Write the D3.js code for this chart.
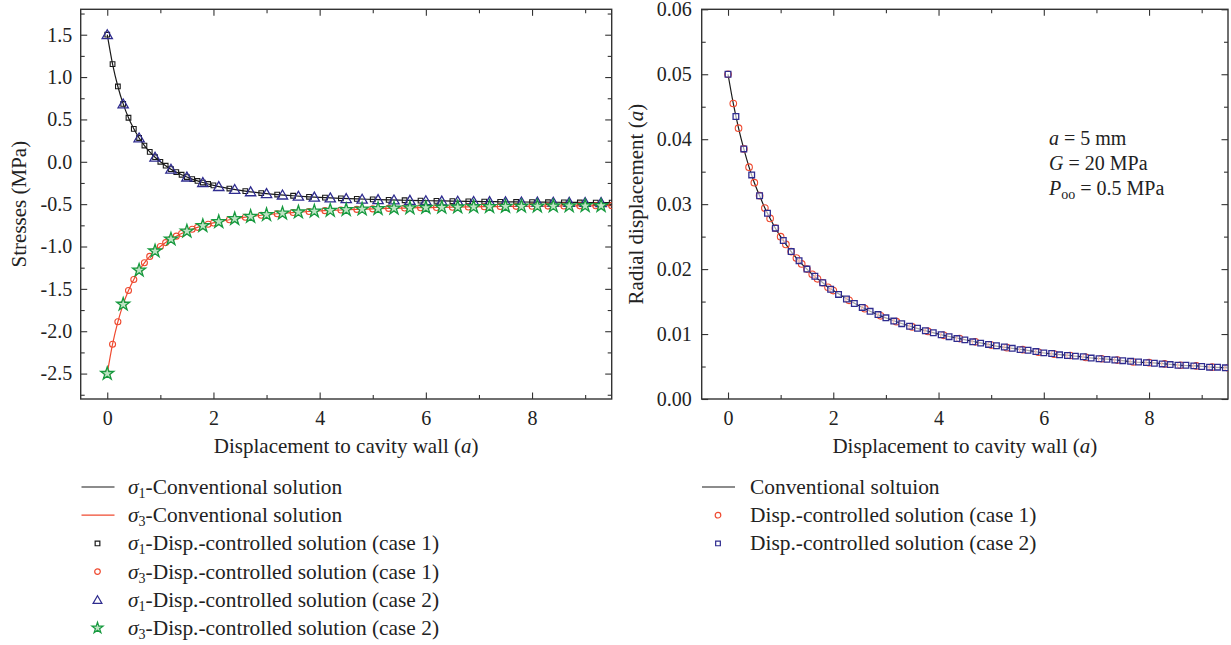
<!DOCTYPE html>
<html>
<head>
<meta charset="utf-8">
<script src="https://cdn.jsdelivr.net/npm/d3@7"></script>
<style>
  body { margin: 0; background: #fff; }
  svg text { font-family: "Liberation Serif", "Times New Roman", serif; fill: #222; }
</style>
</head>
<body>
<div id="chart"></div>
<script>
// --- data ---
// case 1 grid (0.1 steps to 2.0, then 0.3 steps)
const xCase1 = [0, 0.1, 0.2, 0.3, 0.4, 0.5, 0.6, 0.7, 0.8, 0.9, 1.0, 1.1, 1.2, 1.3, 1.4, 1.5, 1.6, 1.7, 1.8, 1.9, 2.0,
  2.3, 2.6, 2.9, 3.2, 3.5, 3.8, 4.1, 4.4, 4.7, 5.0, 5.3, 5.6, 5.9, 6.2, 6.5, 6.8, 7.1, 7.4, 7.7, 8.0, 8.3, 8.6, 8.9, 9.2, 9.5];
const s1Case1 = [1.5, 1.153, 0.889, 0.683, 0.520, 0.389, 0.281, 0.192, 0.117, 0.054, 0.000, -0.046, -0.087, -0.122, -0.153,
  -0.180, -0.204, -0.226, -0.245, -0.262, -0.278, -0.316, -0.346, -0.369, -0.387, -0.401, -0.413, -0.423, -0.431, -0.438,
  -0.444, -0.450, -0.454, -0.458, -0.461, -0.464, -0.467, -0.470, -0.472, -0.474, -0.475, -0.477, -0.478, -0.480, -0.481, -0.482];
const s3Case1 = [-2.5, -2.153, -1.889, -1.683, -1.520, -1.389, -1.281, -1.192, -1.117, -1.054, -1.000, -0.954, -0.913, -0.878, -0.847,
  -0.820, -0.796, -0.774, -0.755, -0.738, -0.722, -0.684, -0.654, -0.631, -0.613, -0.599, -0.587, -0.577, -0.569, -0.562,
  -0.556, -0.550, -0.546, -0.542, -0.539, -0.536, -0.533, -0.530, -0.528, -0.526, -0.525, -0.523, -0.522, -0.520, -0.519, -0.518];

// case 2 grid for stresses (0.3 steps)
const xCase2 = [0, 0.3, 0.6, 0.9, 1.2, 1.5, 1.8, 2.1, 2.4, 2.7, 3.0, 3.3, 3.6, 3.9, 4.2, 4.5, 4.8, 5.1, 5.4, 5.7,
  6.0, 6.3, 6.6, 6.9, 7.2, 7.5, 7.8, 8.1, 8.4, 8.7, 9.0, 9.3];
const s1Case2 = [1.5, 0.683, 0.281, 0.054, -0.087, -0.180, -0.245, -0.292, -0.327, -0.354, -0.375, -0.392, -0.406, -0.417,
  -0.426, -0.434, -0.441, -0.446, -0.451, -0.455, -0.459, -0.463, -0.465, -0.468, -0.470, -0.472, -0.474, -0.476, -0.477,
  -0.479, -0.480, -0.481];
const s3Case2 = [-2.5, -1.683, -1.281, -1.054, -0.913, -0.820, -0.755, -0.708, -0.673, -0.646, -0.625, -0.608, -0.594, -0.583,
  -0.574, -0.566, -0.559, -0.554, -0.549, -0.545, -0.541, -0.538, -0.535, -0.532, -0.530, -0.528, -0.526, -0.524, -0.523,
  -0.521, -0.520, -0.519];

// radial displacement, case 1 on xCase1
const uCase1 = [0.0500, 0.0455, 0.0417, 0.0385, 0.0357, 0.0333, 0.0313, 0.0294, 0.0278, 0.0263, 0.0250, 0.0238, 0.0227,
  0.0217, 0.0208, 0.0200, 0.0192, 0.0185, 0.0179, 0.0172, 0.0167, 0.0152, 0.0139, 0.0128, 0.0119, 0.0111, 0.0104, 0.0098,
  0.0093, 0.0088, 0.0083, 0.0079, 0.0076, 0.0072, 0.0069, 0.0067, 0.0064, 0.0062, 0.0060, 0.0057, 0.0056, 0.0054, 0.0052,
  0.0051, 0.0049, 0.0048];
// radial displacement, case 2 (0.15 steps)
const xCase2R = [0, 0.15, 0.3, 0.45, 0.6, 0.75, 0.9, 1.05, 1.2, 1.35, 1.5, 1.65, 1.8, 1.95, 2.1, 2.25, 2.4, 2.55, 2.7, 2.85,
  3.0, 3.15, 3.3, 3.45, 3.6, 3.75, 3.9, 4.05, 4.2, 4.35, 4.5, 4.65, 4.8, 4.95, 5.1, 5.25, 5.4, 5.55, 5.7, 5.85,
  6.0, 6.15, 6.3, 6.45, 6.6, 6.75, 6.9, 7.05, 7.2, 7.35, 7.5, 7.65, 7.8, 7.95, 8.1, 8.25, 8.4, 8.55, 8.7, 8.85,
  9.0, 9.15, 9.3, 9.45];
const uCase2R = [0.0500, 0.0435, 0.0385, 0.0345, 0.0313, 0.0286, 0.0263, 0.0244, 0.0227, 0.0213,
  0.0200, 0.0189, 0.0179, 0.0169, 0.0161, 0.0154, 0.0147, 0.0141, 0.0135, 0.0130,
  0.0125, 0.0120, 0.0116, 0.0112, 0.0109, 0.0105, 0.0102, 0.0099, 0.0096, 0.0093,
  0.0091, 0.0088, 0.0086, 0.0084, 0.0082, 0.0080, 0.0078, 0.0076, 0.0075, 0.0073,
  0.0071, 0.0070, 0.0068, 0.0067, 0.0066, 0.0065, 0.0063, 0.0062, 0.0061, 0.0060,
  0.0059, 0.0058, 0.0057, 0.0056, 0.0055, 0.0054, 0.0053, 0.0052, 0.0052, 0.0051,
  0.0050, 0.0049, 0.0049, 0.0048];

// conventional (analytical) solution drawn on the fine case 1 grid
const xConv = xCase1, s1Conv = s1Case1, s3Conv = s3Case1, uConv = uCase1;

const stressTicks = [-2.5, -2.0, -1.5, -1.0, -0.5, 0.0, 0.5, 1.0, 1.5];
const dispTicks = [0, 0.01, 0.02, 0.03, 0.04, 0.05, 0.06];
const xTicks = [0, 2, 4, 6, 8];

const RED = "#ef4a30", BLUE = "#2f2c8f", GREEN = "#179a3f", BLACK = "#1a1a1a";

const W = 1231, H = 645;
const svg = d3.select("#chart").append("svg").attr("width", W).attr("height", H);

const zip = (xs, ys) => xs.map((x, i) => [x, ys[i]]);
// plain hyphen for negatives, like the original figure
const hyph = f => d => f(d).replace("\u2212", "-");

function frame(id, x, y, labelPad, yFmt, yTicks, yMinor, title, titleX) {
  const [x0, x1] = x.range(), [y1, y0] = y.range();
  const g = svg.append("g");
  svg.append("clipPath").attr("id", id).append("rect")
    .attr("x", x0).attr("y", y0).attr("width", x1 - x0).attr("height", y1 - y0);

  const xMinor = [1, 3, 5, 7, 9];
  const tick = (axis, sel) => { sel.call(axis); sel.select(".domain").remove(); sel.selectAll("line").attr("stroke", "#333").attr("stroke-width", 1.1); };
  // bottom
  tick(d3.axisBottom(x).tickValues(xTicks).tickSize(-6.5).tickSizeOuter(0).tickPadding(11.5).tickFormat(d3.format("d")),
    g.append("g").attr("transform", `translate(0,${y1})`));
  tick(d3.axisBottom(x).tickValues(xMinor).tickSize(-4).tickSizeOuter(0).tickFormat(""),
    g.append("g").attr("transform", `translate(0,${y1})`));
  // top
  tick(d3.axisTop(x).tickValues(xTicks).tickSize(-6.5).tickSizeOuter(0).tickFormat(""),
    g.append("g").attr("transform", `translate(0,${y0})`));
  tick(d3.axisTop(x).tickValues(xMinor).tickSize(-4).tickSizeOuter(0).tickFormat(""),
    g.append("g").attr("transform", `translate(0,${y0})`));
  // left
  tick(d3.axisLeft(y).tickValues(yTicks).tickSize(-6.5).tickSizeOuter(0).tickPadding(labelPad).tickFormat(yFmt),
    g.append("g").attr("transform", `translate(${x0},0)`));
  tick(d3.axisLeft(y).tickValues(yMinor).tickSize(-4).tickSizeOuter(0).tickFormat(""),
    g.append("g").attr("transform", `translate(${x0},0)`));
  // right
  tick(d3.axisRight(y).tickValues(yTicks).tickSize(-6.5).tickSizeOuter(0).tickFormat(""),
    g.append("g").attr("transform", `translate(${x1},0)`));
  tick(d3.axisRight(y).tickValues(yMinor).tickSize(-4).tickSizeOuter(0).tickFormat(""),
    g.append("g").attr("transform", `translate(${x1},0)`));

  g.selectAll(".tick text").attr("font-size", 20).attr("fill", "#222")
    .style("font-family", '"Liberation Serif", serif');

  g.append("rect").attr("x", x0).attr("y", y0).attr("width", x1 - x0).attr("height", y1 - y0)
    .attr("fill", "none").attr("stroke", "#333").attr("stroke-width", 1.4);

  // x title
  const xt = g.append("text").attr("x", (x0 + x1) / 2).attr("y", 453).attr("text-anchor", "middle").attr("font-size", 21);
  xt.append("tspan").text("Displacement to cavity wall (");
  xt.append("tspan").attr("font-style", "italic").text("a");
  xt.append("tspan").text(")");

  // y title
  const yt = g.append("text").attr("transform", `translate(${titleX},${(y0 + y1) / 2}) rotate(-90)`)
    .attr("text-anchor", "middle").attr("font-size", 21);
  title(yt);
  return g;
}

// ---------- left panel: stresses ----------
const xL = d3.scaleLinear().domain([-0.5, 9.5]).range([80.7, 611.7]);
const yL = d3.scaleLinear().domain([-2.8, 1.8]).range([399, 9.3]);
frame("clipL", xL, yL, 8.5, hyph(d3.format(".1f")), stressTicks, d3.range(-2.75, 1.8, 0.5),
  t => t.text("Stresses (MPa)"), 26);

const lineL = d3.line().x(d => xL(d[0])).y(d => yL(d[1])).curve(d3.curveMonotoneX);
const plotL = svg.append("g").attr("clip-path", "url(#clipL)");
plotL.append("path").datum(zip(xConv, s1Conv)).attr("d", lineL).attr("fill", "none").attr("stroke", BLACK).attr("stroke-width", 1.2);
plotL.append("path").datum(zip(xConv, s3Conv)).attr("d", lineL).attr("fill", "none").attr("stroke", RED).attr("stroke-width", 1.2);

const sq = d3.symbol().type(d3.symbolSquare).size(22);
const tri = d3.symbol().type(d3.symbolTriangle).size(46);
const star = d3.symbol().type(d3.symbolStar).size(52);

plotL.append("g").selectAll("path").data(zip(xCase1, s1Case1)).join("path")
  .attr("transform", d => `translate(${xL(d[0])},${yL(d[1])})`).attr("d", sq)
  .attr("fill", "none").attr("stroke", BLACK).attr("stroke-width", 1.1);
plotL.append("g").selectAll("circle").data(zip(xCase1, s3Case1)).join("circle")
  .attr("cx", d => xL(d[0])).attr("cy", d => yL(d[1])).attr("r", 3)
  .attr("fill", "none").attr("stroke", RED).attr("stroke-width", 1.1);
plotL.append("g").selectAll("path").data(zip(xCase2, s1Case2)).join("path")
  .attr("transform", d => `translate(${xL(d[0])},${yL(d[1]) + 1})`).attr("d", tri)
  .attr("fill", "none").attr("stroke", BLUE).attr("stroke-width", 1.3);
plotL.append("g").selectAll("path").data(zip(xCase2, s3Case2)).join("path")
  .attr("transform", d => `translate(${xL(d[0])},${yL(d[1])})`).attr("d", star)
  .attr("fill", "#bfe3c4").attr("stroke", GREEN).attr("stroke-width", 1.3);

// ---------- right panel: radial displacement ----------
const xR = d3.scaleLinear().domain([-0.5, 9.5]).range([701.7, 1228]);
const yR = d3.scaleLinear().domain([0, 0.06]).range([399, 9.3]);
frame("clipR", xR, yR, 10, d3.format(".2f"), dispTicks, d3.range(0.005, 0.06, 0.01),
  t => { t.append("tspan").text("Radial displacement ("); t.append("tspan").attr("font-style", "italic").text("a"); t.append("tspan").text(")"); }, 643);

const lineR = d3.line().x(d => xR(d[0])).y(d => yR(d[1])).curve(d3.curveMonotoneX);
const plotR = svg.append("g").attr("clip-path", "url(#clipR)");
plotR.append("path").datum(zip(xConv, uConv)).attr("d", lineR).attr("fill", "none").attr("stroke", BLACK).attr("stroke-width", 1.2);
plotR.append("g").selectAll("circle").data(zip(xCase1, uCase1)).join("circle")
  .attr("cx", d => xR(d[0])).attr("cy", d => yR(d[1])).attr("r", 3.3)
  .attr("fill", "none").attr("stroke", RED).attr("stroke-width", 1.1);
const sqR = d3.symbol().type(d3.symbolSquare).size(32);
plotR.append("g").selectAll("path").data(zip(xCase2R, uCase2R)).join("path")
  .attr("transform", d => `translate(${xR(d[0])},${yR(d[1])})`).attr("d", sqR)
  .attr("fill", "#fff").attr("fill-opacity", 0.6).attr("stroke", BLUE).attr("stroke-width", 1.3);

// annotation
const notes = svg.append("g").attr("font-size", 20);
const n1 = notes.append("text").attr("x", 1049).attr("y", 145);
n1.append("tspan").attr("font-style", "italic").text("a");
n1.append("tspan").text(" = 5 mm");
const n2 = notes.append("text").attr("x", 1049).attr("y", 170);
n2.append("tspan").attr("font-style", "italic").text("G");
n2.append("tspan").text(" = 20 MPa");
const n3 = notes.append("text").attr("x", 1049).attr("y", 195);
n3.append("tspan").attr("font-style", "italic").text("P");
n3.append("tspan").attr("font-size", 14).attr("dy", 4).text("oo");
n3.append("tspan").attr("dy", -4).text(" = 0.5 MPa");

// ---------- legends ----------
function sigmaLabel(t, sub, rest) {
  t.append("tspan").attr("font-style", "italic").text("σ");
  t.append("tspan").attr("font-size", 14).attr("dy", 4).text(sub);
  t.append("tspan").attr("dy", -4).text(rest);
}
const legL = [
  { kind: "line", color: BLACK, sub: "1", text: "-Conventional solution" },
  { kind: "line", color: RED, sub: "3", text: "-Conventional solution" },
  { kind: "sq", color: BLACK, sub: "1", text: "-Disp.-controlled solution (case 1)" },
  { kind: "circle", color: RED, sub: "3", text: "-Disp.-controlled solution (case 1)" },
  { kind: "tri", color: BLUE, sub: "1", text: "-Disp.-controlled solution (case 2)" },
  { kind: "star", color: GREEN, sub: "3", text: "-Disp.-controlled solution (case 2)" }
];
const legR = [
  { kind: "line", color: BLACK, text: "Conventional soltuion" },
  { kind: "circle", color: RED, text: "Disp.-controlled solution (case 1)" },
  { kind: "sqR", color: BLUE, text: "Disp.-controlled solution (case 2)" }
];

const keyTri = d3.symbol().type(d3.symbolTriangle).size(34);
const keyStar = d3.symbol().type(d3.symbolStar).size(38);
function drawKey(g, d, cx) {
  if (d.kind === "line") {
    g.append("line").attr("x1", cx - 16).attr("x2", cx + 17).attr("stroke", d.color).attr("stroke-width", 1.2);
  } else if (d.kind === "circle") {
    g.append("circle").attr("cx", cx).attr("r", 2.8).attr("fill", "none").attr("stroke", d.color).attr("stroke-width", 1.2);
  } else {
    const sym = { sq: sq, sqR: sq, tri: keyTri, star: keyStar }[d.kind];
    g.append("path").attr("transform", `translate(${cx},${d.kind === "tri" ? 1 : 0})`).attr("d", sym)
      .attr("fill", d.kind === "star" ? "#bfe3c4" : "none").attr("stroke", d.color).attr("stroke-width", 1.2);
  }
}

legL.forEach((d, i) => {
  const g = svg.append("g").attr("transform", `translate(0,${487 + i * 28.2})`);
  drawKey(g, d, 97.5);
  const t = g.append("text").attr("x", 128).attr("y", 7).attr("font-size", 21.4);
  sigmaLabel(t, d.sub, d.text);
});
legR.forEach((d, i) => {
  const g = svg.append("g").attr("transform", `translate(0,${487 + i * 28.2})`);
  drawKey(g, d, 718);
  g.append("text").attr("x", 750).attr("y", 7).attr("font-size", 21.4).text(d.text);
});
</script>
</body>
</html>
